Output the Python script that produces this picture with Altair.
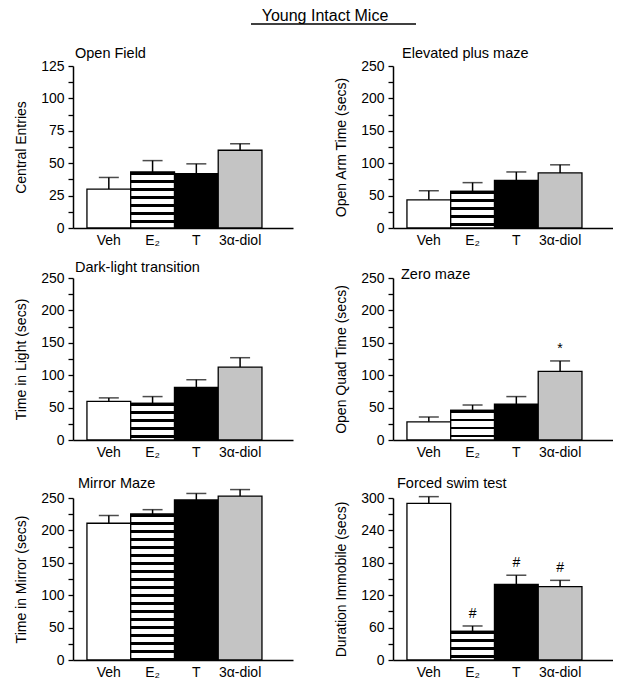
import altair as alt
import pandas as pd

FONT = "Liberation Sans"

main_title = "Young Intact Mice"
groups = ["Veh", "E₂", "T", "3α-diol"]

titles = ["Open Field", "Elevated plus maze", "Dark-light transition",
          "Zero maze", "Mirror Maze", "Forced swim test"]
y_titles = ["Central Entries", "Open Arm Time (secs)", "Time in Light (secs)",
            "Open Quad Time (secs)", "Time in Mirror (secs)", "Duration Immobile (secs)"]

means_open_field = [30, 43, 42, 60]
upper_open_field = [39, 52, 49.5, 65]
means_plus_maze = [43.5, 56.5, 73.5, 85]
upper_plus_maze = [57.5, 70, 86.5, 97.5]
means_dark_light = [59.5, 56.5, 81, 112.5]
upper_dark_light = [65, 67, 93, 127]
means_zero_maze = [28, 45.5, 55.5, 106]
upper_zero_maze = [35.5, 54, 67, 122]
means_mirror = [211, 225, 247, 253]
upper_mirror = [223, 232, 257, 263]
means_swim = [290, 53, 140, 136]
upper_swim = [302.5, 63, 157, 147.5]

marks_none = ["", "", "", ""]
marks_zero_maze = ["", "", "", "*"]
marks_swim = ["", "#", "#", "#"]

y_max = [125, 250, 250, 250, 250, 300]
y_minor = [12.5, 25, 25, 25, 25, 30]
y_major = [25, 50, 50, 50, 50, 60]

W, H = 220, 162
NOVIEW = alt.ViewBackground(stroke="transparent", strokeWidth=0)


def stripe_gradient(height_px, period=8.0, black=2.6):
    stops = []
    y = 0.0
    while y < height_px - 0.01:
        a = y / height_px
        b = min(y + black, height_px) / height_px
        c = min(y + period, height_px) / height_px
        stops += [alt.GradientStop(offset=a, color="black"),
                  alt.GradientStop(offset=b, color="black"),
                  alt.GradientStop(offset=b, color="white"),
                  alt.GradientStop(offset=c, color="white")]
        y += period
    return alt.LinearGradient(gradient="linear", stops=stops, x1=0, x2=0, y1=0, y2=1)


def panel(i, means, uppers, marks, tx, ty):
    df = pd.DataFrame({"group": groups, "mean": means, "upper": uppers, "mark": marks})
    ymax, minor, major = y_max[i], y_minor[i], y_major[i]
    n = int(round(ymax / minor))
    vals = [k * minor for k in range(n + 1)]
    xenc = alt.X("group:N", sort=groups,
                 scale=alt.Scale(domain=groups, paddingInner=0, paddingOuter=0.514, align=0.31),
                 axis=alt.Axis(title=None, labelAngle=0, ticks=False, labelFontSize=14,
                               labelPadding=5, domainColor="black", domainWidth=1.5,
                               labelColor="black", labelFont=FONT))
    yscale = alt.Scale(domain=[0, ymax], nice=False, zero=True)
    yaxis = alt.Axis(title=y_titles[i], values=vals,
                     labelExpr=f"datum.value % {major} == 0 ? datum.label : ''",
                     grid=False, tickSize=5, tickColor="black", tickWidth=1.3,
                     domainColor="black", domainWidth=1.5, labelFontSize=14,
                     labelColor="black", labelFont=FONT, labelPadding=4,
                     titleFontSize=14, titleFont=FONT, titleFontWeight="normal",
                     titleColor="black", titlePadding=12)
    base = alt.Chart(df)
    bars = base.mark_bar(stroke="black", strokeWidth=1.3).encode(
        x=xenc,
        y=alt.Y("mean:Q", scale=yscale, axis=yaxis),
        fill=alt.Fill("group:N", scale=alt.Scale(domain=groups,
                      range=["white", "white", "black", "#c4c4c4"]), legend=None),
    )
    e2_px = means[1] / ymax * H
    e2 = base.transform_filter(alt.datum.group == groups[1]).mark_bar(
        fill=stripe_gradient(e2_px), stroke="black", strokeWidth=1.3).encode(
        x=xenc, y=alt.Y("mean:Q", scale=yscale, axis=yaxis))
    err = base.mark_rule(strokeWidth=1.5, color="black").encode(
        x=xenc, y=alt.Y("mean:Q", scale=yscale, axis=yaxis), y2="upper:Q")
    cap = base.mark_tick(size=20, thickness=1.5, color="black").encode(
        x=xenc, y=alt.Y("upper:Q", scale=yscale, axis=yaxis))
    txt = base.mark_text(dy=-12, fontSize=14, font=FONT, color="black",
                         baseline="middle").encode(
        x=xenc, y=alt.Y("upper:Q", scale=yscale, axis=yaxis), text="mark:N")
    ttl = alt.Chart(pd.DataFrame({"t": [titles[i]]})).mark_text(
        fontSize=14.5, font=FONT, color="black", align="left", baseline="middle").encode(
        text="t:N", x=alt.value(tx), y=alt.value(ty))
    return alt.layer(bars, e2, err, cap, txt, ttl).properties(width=W, height=H, view=NOVIEW)


p1 = panel(0, means_open_field, upper_open_field, marks_none, 2, -12)
p2 = panel(1, means_plus_maze, upper_plus_maze, marks_none, 9, -12)
p3 = panel(2, means_dark_light, upper_dark_light, marks_none, 2, -10)
p4 = panel(3, means_zero_maze, upper_zero_maze, marks_zero_maze, 8, -3)
p5 = panel(4, means_mirror, upper_mirror, marks_none, 5, -14)
p6 = panel(5, means_swim, upper_swim, marks_swim, 4, -14)

header_df = pd.DataFrame({"t": [main_title]})
htext = alt.Chart(header_df).mark_text(fontSize=16, font=FONT, color="black",
                                       align="center", baseline="middle").encode(
    text="t:N", x=alt.value(252), y=alt.value(5))
hline = alt.Chart(header_df).mark_rule(strokeWidth=1.5, color="black").encode(
    x=alt.value(178), x2=alt.value(343), y=alt.value(13))
header = alt.layer(htext, hline).properties(width=500, height=22, view=NOVIEW)

row1 = alt.hconcat(p1, p2, spacing=41)
row2 = alt.hconcat(p3, p4, spacing=41)
row3 = alt.hconcat(p5, p6, spacing=41)

top = alt.vconcat(header, row1, row2, spacing=13)
chart = alt.vconcat(top, row3, spacing=11).properties(
    padding={"left": 6, "top": 0, "right": 0, "bottom": 0}
).configure_view(stroke="transparent", strokeWidth=0).configure(background="white")

chart.save("out.html", embed_options={"renderer": "svg", "actions": False})
